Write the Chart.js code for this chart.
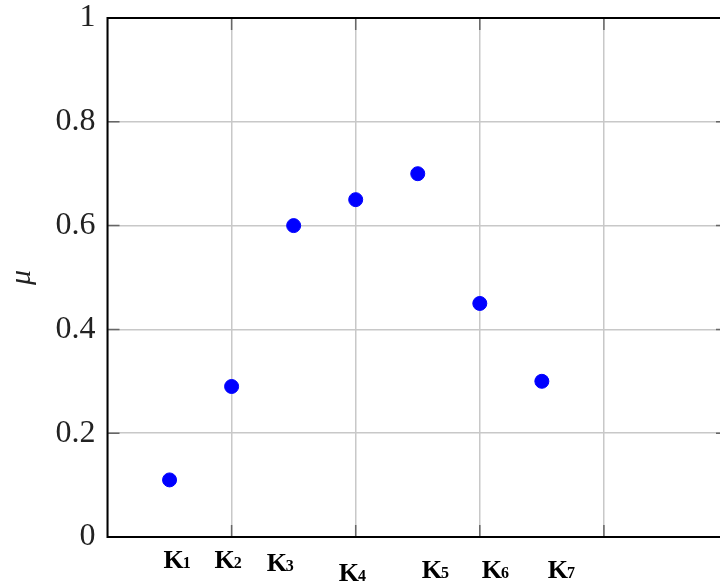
<!DOCTYPE html>
<html>
<head>
<meta charset="utf-8">
<script src="https://cdn.jsdelivr.net/npm/chart.js@4/dist/chart.umd.min.js"></script>
<style>
  html, body { margin: 0; padding: 0; background: #fff; overflow: hidden; }
  #wrap { width: 740px; height: 583px; }
</style>
</head>
<body>
<div id="wrap"><canvas id="muChart"></canvas></div>
<script>
// Data
const categories = ["K1", "K2", "K3", "K4", "K5", "K6", "K7"];
const xPositions = [0.5, 1, 1.5, 2, 2.5, 3, 3.5];
const muValues = [0.11, 0.29, 0.60, 0.65, 0.70, 0.45, 0.30];
const yTicks = [0, 0.2, 0.4, 0.6, 0.8, 1];
const xGrid = [1, 2, 3, 4];

// label nudges under the axis (dx from point, baseline below axis)
const labelNudge = [[-6, 31], [-17, 31], [-27, 34], [-17, 44], [4, 41], [2, 41], [6, 41]];

// Frame, inward ticks and K labels
const framePlugin = {
    id: "frame",
    afterDraw(chart) {
        const { ctx, chartArea: a } = chart;
        const xs = chart.scales.x, ys = chart.scales.y;
        ctx.save();
        ctx.strokeStyle = "#666";
        ctx.lineWidth = 1.5;
        yTicks.forEach((v) => {
            const y = ys.getPixelForValue(v);
            ctx.beginPath();
            ctx.moveTo(a.left, y); ctx.lineTo(a.left + 12, y);
            ctx.moveTo(a.right, y); ctx.lineTo(a.right - 12, y);
            ctx.stroke();
        });
        xGrid.forEach((v) => {
            const x = xs.getPixelForValue(v);
            ctx.beginPath();
            ctx.moveTo(x, a.bottom); ctx.lineTo(x, a.bottom - 12);
            ctx.moveTo(x, a.top); ctx.lineTo(x, a.top + 12);
            ctx.stroke();
        });
        ctx.strokeStyle = "#000";
        ctx.lineWidth = 2;
        ctx.strokeRect(a.left, a.top, a.right - a.left, a.bottom - a.top);

        ctx.fillStyle = "#000";
        ctx.textBaseline = "alphabetic";
        ctx.textAlign = "left";
        categories.forEach((c, i) => {
            const x = xs.getPixelForValue(xPositions[i]) + labelNudge[i][0];
            const y = a.bottom + labelNudge[i][1];
            ctx.font = "bold 26px 'Liberation Serif'";
            ctx.fillText(c[0], x, y);
            const w = ctx.measureText(c[0]).width;
            ctx.font = "bold 16px 'Liberation Serif'";
            ctx.fillText(c.slice(1), x + w - 1, y);
        });
        ctx.restore();
    }
};

const ctx = document.getElementById("muChart").getContext("2d");
new Chart(ctx, {
    type: "scatter",
    data: {
        datasets: [{
            data: xPositions.map((x, i) => ({ x: x, y: muValues[i] })),
            backgroundColor: "#0000ff",
            borderColor: "#0000ff",
            pointRadius: 7,
            pointHoverRadius: 7,
        }],
    },
    options: {
        responsive: true,
        maintainAspectRatio: false,
        animation: false,
        layout: { padding: { top: 18, right: 12, left: 0, bottom: 0 } },
        plugins: { legend: { display: false }, tooltip: { enabled: false } },
        scales: {
            x: {
                type: "linear",
                min: 0,
                max: 5,
                afterFit(scale) { scale.height = 46; scale.paddingLeft = 0; scale.paddingRight = 0; },
                ticks: { display: false, stepSize: 1 },
                grid: { color: "#c8c8c8", lineWidth: 1.5, drawTicks: false },
                border: { display: false },
            },
            y: {
                min: 0,
                max: 1,
                afterFit(scale) { scale.width = 107.5; scale.paddingTop = 0; scale.paddingBottom = 0; },
                afterBuildTicks(scale) { scale.ticks = yTicks.map((v) => ({ value: v })); },
                ticks: {
                    color: "#222",
                    padding: 12,
                    font: { family: "'Liberation Serif'", size: 32 },
                    callback: (v) => String(Math.round(v * 10) / 10),
                },
                grid: { color: "#c8c8c8", lineWidth: 1.5, drawTicks: false },
                border: { display: false },
                title: {
                    display: true,
                    text: "μ",
                    color: "#222",
                    padding: { top: 4, bottom: 0 },
                    font: { family: "'Liberation Serif'", size: 30, style: "italic" },
                },
            },
        },
    },
    plugins: [framePlugin],
});
</script>
</body>
</html>
